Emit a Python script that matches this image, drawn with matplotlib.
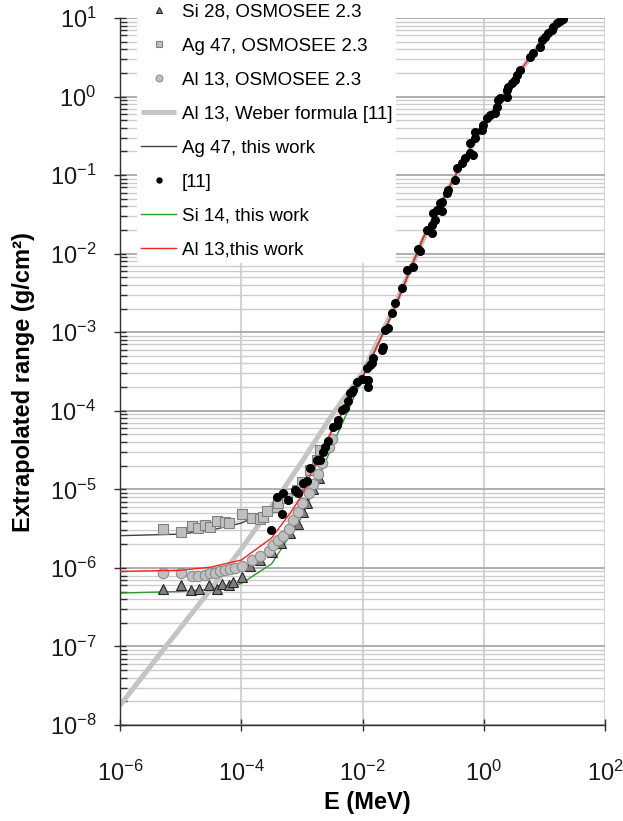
import numpy as np
import matplotlib.pyplot as plt
from matplotlib.ticker import FixedLocator, LogLocator, NullFormatter, NullLocator, FuncFormatter

plt.rcParams['font.family'] = ['Liberation Sans', 'DejaVu Sans']
plt.rcParams['mathtext.fontset'] = 'custom'
plt.rcParams['mathtext.rm'] = 'Liberation Sans'
plt.rcParams['mathtext.default'] = 'regular'

# values, stored as log10(E [MeV]) and log10(R [g/cm2])
si28_logE = [-5.29, -5.00, -4.83, -4.69, -4.54, -4.40, -4.32, -4.21, -4.13, -3.99,
             -3.85, -3.69, -3.50, -3.35, -3.19, -3.06, -2.98, -2.92, -2.81, -2.72]
si28_logR = [-6.27, -6.22, -6.28, -6.27, -6.22, -6.27, -6.20, -6.22, -6.18, -6.12,
             -5.97, -5.90, -5.80, -5.68, -5.56, -5.44, -5.29, -5.18, -4.99, -4.85]

ag47_logE = [-5.29, -4.99, -4.82, -4.71, -4.59, -4.51, -4.40, -4.27, -4.21, -3.99,
             -3.83, -3.69, -3.64, -3.58, -3.41, -3.39, -3.25, -3.08, -3.00, -2.86,
             -2.75, -2.70]
ag47_logR = [-5.51, -5.54, -5.47, -5.49, -5.45, -5.48, -5.40, -5.42, -5.43, -5.31,
             -5.37, -5.38, -5.35, -5.28, -5.23, -5.18, -5.11, -5.01, -4.91, -4.76,
             -4.63, -4.50]

al13_logE = [-5.29, -4.99, -4.82, -4.71, -4.60, -4.51, -4.43, -4.35, -4.27, -4.18,
             -4.10, -3.99, -3.83, -3.69, -3.55, -3.47, -3.39, -3.31, -3.22, -3.14,
             -3.06, -2.99, -2.89, -2.81, -2.73, -2.67, -2.56, -2.50]
al13_logR = [-6.07, -6.07, -6.10, -6.10, -6.09, -6.07, -6.07, -6.04, -6.03, -6.02,
             -6.00, -5.97, -5.90, -5.85, -5.78, -5.71, -5.65, -5.59, -5.50, -5.39,
             -5.29, -5.18, -5.05, -4.93, -4.80, -4.67, -4.46, -4.36]

weber_logE = [-6.0, -5.0, -4.5, -4.0, -3.5, -3.0, -2.5, -2.0, -1.5, -1.0, -0.5, 0.0, 0.5, 1.0, 1.3]
weber_logR = [-7.75, -6.76, -6.27, -5.76, -5.22, -4.65, -4.05, -3.52, -2.72, -1.82, -1.06,
              -0.36, 0.22, 0.74, 1.00]

ag_work_logE = [-6.0, -5.0, -4.5, -4.0, -3.5, -3.0, -2.5, -2.0, -1.5, -1.0, -0.5, 0.0]
ag_work_logR = [-5.59, -5.57, -5.52, -5.43, -5.25, -4.95, -4.25, -3.57, -2.75, -1.80,
                -1.05, -0.35]

si_work_logE = [-6.0, -5.0, -4.5, -4.0, -3.5, -3.0, -2.5, -2.0, -1.5, -1.0, -0.5, 0.0]
si_work_logR = [-6.32, -6.30, -6.27, -6.20, -5.95, -5.35, -4.45, -3.58, -2.75, -1.80,
                -1.05, -0.35]

al_work_logE = [-6.0, -5.0, -4.5, -4.0, -3.5, -3.2, -3.0, -2.8, -2.5, -2.0, -1.5, -1.0,
                -0.5, 0.0, 0.5, 1.0, 1.3]
al_work_logR = [-6.045, -6.03, -5.99, -5.90, -5.62, -5.31, -5.08, -4.70, -4.25, -3.57,
                -2.75, -1.80, -1.05, -0.35, 0.22, 0.75, 1.00]

ref11_logE = [-3.51, -3.41, -3.33, -3.31, -3.23, -3.11, -3.08, -3.06, -2.98, -2.91,
              -2.86, -2.75, -2.70, -2.65, -2.62, -2.57, -2.49, -2.42, -2.40, -2.34,
              -2.29, -2.24, -2.20, -2.17, -2.16, -2.09, -2.01, -1.92, -1.91, -1.91,
              -1.92, -1.87, -1.84, -1.83, -1.68, -1.66, -1.63, -1.58, -1.51, -1.46,
              -1.35, -1.26, -1.17, -1.08, -1.05, -0.93, -0.85, -0.85, -0.80, -0.83,
              -0.77, -0.72, -0.69, -0.69, -0.60, -0.59, -0.47, -0.44, -0.36, -0.31,
              -0.22, -0.17, -0.22, -0.14, -0.14, -0.03, -0.01, 0.06, 0.11, 0.19,
              0.22, 0.24, 0.27, 0.39, 0.39, 0.40, 0.47, 0.52, 0.55, 0.60,
              0.77, 0.82, 0.93, 0.96, 1.01, 1.06, 1.13, 1.15, 1.21, 1.26, 1.31]
ref11_logR = [-5.52, -5.10, -5.31, -5.05, -5.14, -5.01, -5.04, -5.05, -4.92, -4.89,
              -4.73, -4.63, -4.63, -4.53, -4.46, -4.38, -4.21, -4.18, -4.12, -3.99,
              -3.96, -3.87, -3.78, -3.76, -3.74, -3.64, -3.59, -3.61, -3.70, -3.61,
              -3.45, -3.42, -3.39, -3.33, -3.23, -3.19, -2.97, -2.94, -2.75, -2.63,
              -2.44, -2.21, -2.17, -1.94, -1.96, -1.70, -1.74, -1.64, -1.57, -1.48,
              -1.45, -1.36, -1.46, -1.34, -1.23, -1.19, -1.06, -0.91, -0.85, -0.78,
              -0.72, -0.75, -0.59, -0.53, -0.45, -0.43, -0.36, -0.27, -0.24, -0.21,
              -0.13, -0.04, -0.02, -0.01, 0.08, 0.12, 0.17, 0.21, 0.27, 0.34,
              0.50, 0.55, 0.63, 0.72, 0.76, 0.81, 0.85, 0.89, 0.94, 0.96, 0.99]


def p(a):
    return 10.0 ** np.array(a)


fig = plt.figure(figsize=(6.23, 8.21), dpi=100)
ax = fig.add_axes([120 / 623, 1 - 725 / 821, 485 / 623, 707 / 821])

h_weber, = ax.plot(p(weber_logE), p(weber_logR), color='#c4c4c4', lw=3.6,
                   solid_capstyle='butt', zorder=2, label='Al 13, Weber formula [11]')
h_agw, = ax.plot(p(ag_work_logE), p(ag_work_logR), color='#404040', lw=1.0, zorder=2.5,
                 label='Ag 47, this work')
h_siw, = ax.plot(p(si_work_logE), p(si_work_logR), color='#2e9a2e', lw=1.0, zorder=2.5,
                 label='Si 14, this work')
h_si28, = ax.plot(p(si28_logE), p(si28_logR), ls='none', marker='^', ms=7.5,
                  mfc='#808080', mec='#262626', mew=0.8, zorder=3, label='Si 28, OSMOSEE 2.3')
h_ag47, = ax.plot(p(ag47_logE), p(ag47_logR), ls='none', marker='s', ms=7,
                  mfc='#c0c0c0', mec='#808080', mew=0.8, zorder=4, label='Ag 47, OSMOSEE 2.3')
h_al13, = ax.plot(p(al13_logE), p(al13_logR), ls='none', marker='o', ms=7.5,
                  mfc='#c0c0c0', mec='#8c8c8c', mew=0.8, zorder=5, label='Al 13, OSMOSEE 2.3')
h_alw, = ax.plot(p(al_work_logE), p(al_work_logR), color='#ff2020', lw=1.0, zorder=6,
                 label='Al 13,this work')
h_ref, = ax.plot(p(ref11_logE), p(ref11_logR), ls='none', marker='o', ms=5.5,
                 mfc='black', mec='black', zorder=7, label='[11]')

ax.set_xscale('log')
ax.set_yscale('log')
ax.set_xlim(1e-6, 1e2)
ax.set_ylim(1e-8, 1e1)

ax.xaxis.set_major_locator(FixedLocator([1e-6, 1e-4, 1e-2, 1e0, 1e2]))
ax.xaxis.set_minor_locator(NullLocator())
ax.yaxis.set_major_locator(LogLocator(base=10, numticks=20))
ax.yaxis.set_minor_locator(LogLocator(base=10, subs=np.arange(2, 10), numticks=20))
ax.yaxis.set_minor_formatter(NullFormatter())
fmt = FuncFormatter(lambda v, pos: '$10^{%d}$' % int(round(np.log10(v))))
ax.xaxis.set_major_formatter(fmt)
ax.yaxis.set_major_formatter(fmt)

ax.set_axisbelow(True)
ax.grid(axis='x', which='major', color='#d4d4d4', lw=1.5)
ax.grid(axis='y', which='major', color='#a8a8a8', lw=1.3)
ax.grid(axis='y', which='minor', color='#cccccc', lw=1.0)

for s in ['top', 'right']:
    ax.spines[s].set_visible(False)
for s in ['left', 'bottom']:
    ax.spines[s].set_color('#303030')
    ax.spines[s].set_linewidth(1.0)

ax.tick_params(axis='y', which='major', direction='inout', length=8, width=1,
               color='#303030', labelsize=17, pad=13, labelcolor='#1a1a1a')
ax.tick_params(axis='y', which='minor', direction='in', length=5, width=1, color='#303030')
ax.tick_params(axis='x', which='major', direction='inout', length=8, width=1,
               color='#303030', labelsize=17, pad=22, labelcolor='#1a1a1a')

ax.set_ylabel('Extrapolated range (g/cm²)', fontsize=17, fontweight='bold')
ax.yaxis.set_label_coords(-0.176, 0.485)
ax.set_xlabel('E (MeV)', fontsize=17, fontweight='bold')
ax.xaxis.set_label_coords(0.509, -0.094)

handles = [h_si28, h_ag47, h_al13, h_weber, h_agw, h_ref, h_siw, h_alw]
leg = ax.legend(handles=handles, labels=[h.get_label() for h in handles],
                loc='upper left', bbox_to_anchor=(137 / 623, 1.0),
                bbox_transform=fig.transFigure, fontsize=13.5, frameon=True,
                handlelength=1.9, handletextpad=0.3, labelspacing=0.9,
                borderpad=0.2, borderaxespad=0, markerscale=0.65, framealpha=1)
leg.get_frame().set_edgecolor('none')
leg.get_frame().set_facecolor('white')
leg.set_zorder(10)

fig.savefig('out.png', dpi=100)
